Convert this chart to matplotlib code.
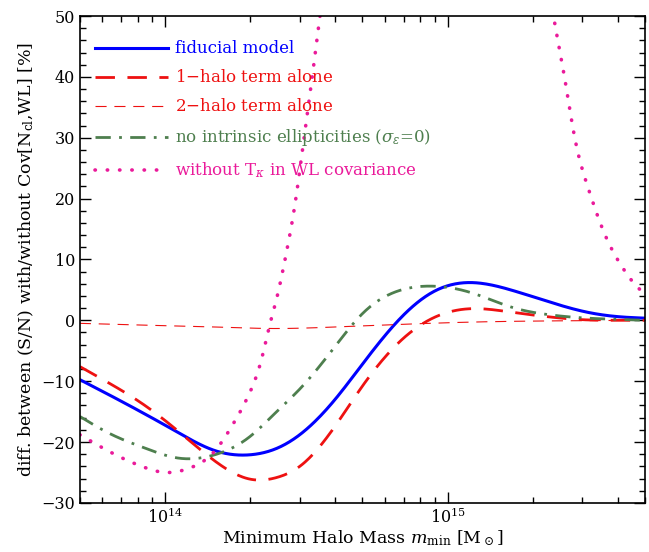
import numpy as np
import matplotlib
matplotlib.use("Agg")
import matplotlib.pyplot as plt
from matplotlib.ticker import MultipleLocator, LogLocator, NullFormatter

plt.rcParams["font.family"] = ["DejaVu Serif"]
plt.rcParams["mathtext.fontset"] = "dejavuserif"

# masses in units of 1e14 Msun, values in percent
mass = [0.5, 0.65, 0.85, 1.1, 1.5, 2.0, 2.5, 3.0, 4.0, 5.0, 7.0, 9.0, 12, 17, 23, 30, 40, 50]
fiducial = [-9.75, -12.5, -15.4, -18.3, -21.4, -22.1, -21.0, -18.8, -13.0, -7.2, 0.9, 4.8, 6.2, 4.9, 3.0, 1.5, 0.6, 0.35]
one_halo = [-7.6, -10.6, -14.0, -18.0, -23.1, -26.1, -25.8, -24.0, -17.4, -10.8, -2.9, 0.5, 1.9, 1.3, 0.55, 0.1, 0.0, 0.0]
no_ellip = [-15.8, -18.8, -21.0, -22.6, -22.1, -19.1, -14.9, -11.3, -4.3, 1.1, 5.1, 5.6, 4.6, 2.1, 0.9, 0.4, 0.15, 0.0]

mass_2h = [0.5, 0.85, 1.5, 2.5, 4.0, 7.0, 12, 23, 50]
two_halo = [-0.5, -0.8, -1.1, -1.35, -1.1, -0.65, -0.3, -0.1, 0.0]

mass_nt_lo = [0.5, 0.65, 0.85, 1.0, 1.22, 1.5, 1.73, 2.0, 2.2, 2.35, 2.48, 2.69, 2.88, 3.08, 3.25, 3.5, 3.8]
no_tk_lo = [-18.8, -21.8, -24.2, -25.0, -24.3, -21.5, -17.3, -11.8, -6.3, -0.7, 3.4, 11.1, 18.8, 28.6, 36.6, 48.4, 60.0]
mass_nt_hi = [21.5, 23.7, 25.9, 28.1, 31.3, 35.8, 42.1, 48.1, 50]
no_tk_hi = [63.0, 50.0, 40.1, 30.3, 22.0, 14.4, 8.3, 5.0, 4.4]


def spline(x, y, xn):
    # natural cubic spline in log10(mass)
    x = np.log10(np.asarray(x, float)); y = np.asarray(y, float)
    xn = np.log10(xn)
    n = len(x); h = np.diff(x)
    A = np.zeros((n, n)); r = np.zeros(n)
    A[0, 0] = A[-1, -1] = 1
    for i in range(1, n - 1):
        A[i, i - 1] = h[i - 1]; A[i, i] = 2 * (h[i - 1] + h[i]); A[i, i + 1] = h[i]
        r[i] = 3 * ((y[i + 1] - y[i]) / h[i] - (y[i] - y[i - 1]) / h[i - 1])
    c = np.linalg.solve(A, r)
    b = (y[1:] - y[:-1]) / h - h * (2 * c[:-1] + c[1:]) / 3
    d = (c[1:] - c[:-1]) / (3 * h)
    k = np.clip(np.searchsorted(x, xn) - 1, 0, n - 2)
    dx = xn - x[k]
    return y[k] + b[k] * dx + c[k] * dx ** 2 + d[k] * dx ** 3


def curve(m, v):
    mm = np.logspace(np.log10(m[0]), np.log10(m[-1]), 400)
    return mm * 1e14, spline(m, v, mm)


blue = "#0000ff"
red = "#ee1111"
green = "#4e7f4e"
pink = "#ea1a9a"

fig = plt.figure(figsize=(6.49, 5.52), dpi=100)
ax = fig.add_axes([0.123, 0.089, 0.871, 0.882])

ax.plot(*curve(mass, fiducial), color=blue, lw=2.2, label="fiducial model")
ax.plot(*curve(mass, one_halo), color=red, lw=2.0, dashes=(7, 4.5), label="1$-$halo term alone")
ax.plot(*curve(mass_2h, two_halo), color=red, lw=0.8, dashes=(10, 7), label="2$-$halo term alone")
ax.plot(*curve(mass, no_ellip), color=green, lw=2.0, dashes=(5.5, 3, 1, 3),
        label="no intrinsic ellipticities ($\\sigma_\\epsilon$=0)")
ax.plot(*curve(mass_nt_lo, no_tk_lo), color=pink, lw=2.6, dashes=(0.1, 3.3),
        dash_capstyle="round", label="without T$_\\kappa$ in WL covariance")
ax.plot(*curve(mass_nt_hi, no_tk_hi), color=pink, lw=2.6, dashes=(0.1, 3.3),
        dash_capstyle="round")

ax.set_xscale("log")
ax.set_xlim(5e13, 5e15)
ax.set_ylim(-30, 50)
ax.yaxis.set_major_locator(MultipleLocator(10))
ax.yaxis.set_minor_locator(MultipleLocator(2))
ax.xaxis.set_major_locator(LogLocator(base=10))
ax.xaxis.set_minor_locator(LogLocator(base=10, subs=np.arange(2, 10)))
ax.xaxis.set_minor_formatter(NullFormatter())
ax.tick_params(which="both", direction="in", top=True, right=True, labelsize=11.5, width=1.0)
ax.tick_params(which="major", length=8)
ax.tick_params(which="minor", length=4)
for s in ax.spines.values():
    s.set_linewidth(1.2)

ax.set_xlabel("Minimum Halo Mass $m_{\\rm min}$ [M$_\\odot$]", fontsize=12.5, labelpad=1)
ax.set_ylabel("diff. between (S/N) with/without Cov[N$_{\\rm cl}$,WL] [%]", fontsize=12.5, labelpad=4)

ax.legend(loc="upper left", bbox_to_anchor=(0.027, 0.95), frameon=False, fontsize=12,
          handlelength=4.4, handletextpad=0.4, labelspacing=0.72, borderpad=0,
          borderaxespad=0, labelcolor="linecolor")

fig.savefig("out.png", dpi=100)
